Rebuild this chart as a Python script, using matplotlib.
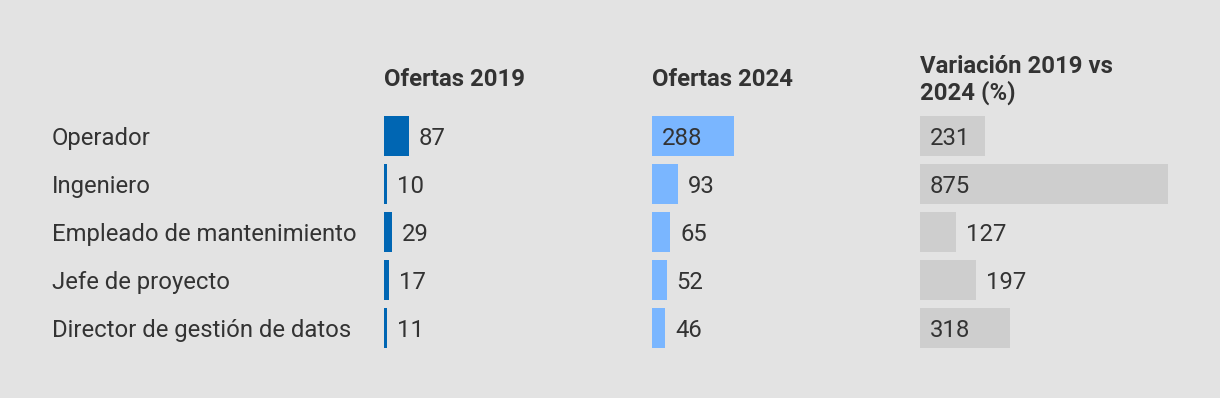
import matplotlib
matplotlib.use("Agg")
import matplotlib.pyplot as plt

# ── 데이터 ────────────────────────────────────────────────────────────────
categories = [
    "Operador",
    "Ingeniero",
    "Empleado de mantenimiento",
    "Jefe de proyecto",
    "Director de gestión de datos",
]
ofertas_2019 = [87, 10, 29, 17, 11]
ofertas_2024 = [288, 93, 65, 52, 46]
variacion = [231, 875, 127, 197, 318]
headers = ["Ofertas 2019", "Ofertas 2024", "Variación 2019 vs\n2024 (%)"]

# ── 스타일 ────────────────────────────────────────────────────────────────
BG = "#e3e3e3"
TXT = "#333333"
COLORS = ["#0066b3", "#7ab6ff", "#cecece"]
FS = 17.2
plt.rcParams["font.family"] = ["Roboto", "DejaVu Sans"]

W, H = 1220, 398
fig = plt.figure(figsize=(W / 100, H / 100), dpi=100)
fig.patch.set_facecolor(BG)

COL_X = [384, 652, 920]      # 열 시작 (px)
COL_W = 248                   # 최대값 875 에 해당하는 폭 (px)
ROW_TOP, ROW_H = 112, 48      # 첫 행 상단, 행 간격 (px)
BASE_OFF = 8.5                # 행 중심 → 글자 baseline (px)
n = len(categories)
vmax = max(variacion)

def fx(px):
    return px / W

def fy(py):
    return 1 - py / H

series = [ofertas_2019, ofertas_2024, variacion]
fig.canvas.draw()
renderer = fig.canvas.get_renderer()

for col, (vals, color, head) in enumerate(zip(series, COLORS, headers)):
    ax = fig.add_axes([fx(COL_X[col]), fy(ROW_TOP + n * ROW_H),
                       fx(COL_W), n * ROW_H / H])
    ax.set_xlim(0, vmax)
    ax.set_ylim(n - 0.5, -0.5)
    ax.axis("off")
    ax.barh(range(n), vals, height=40 / ROW_H, color=color, left=0)
    px_per_unit = COL_W / vmax
    for i, v in enumerate(vals):
        t = ax.text(0, i + BASE_OFF / ROW_H, str(v), fontsize=FS, color=TXT,
                    va="baseline", ha="left")
        tw = t.get_window_extent(renderer).width
        if v * px_per_unit > tw + 20:
            t.set_x(10 / px_per_unit)
        else:
            t.set_x(v + 10 / px_per_unit)
    fig.text(fx(COL_X[col]), fy(80), head, fontsize=FS, fontweight="bold",
             color=TXT, ha="left", va="center", linespacing=1.15)

for i, cat in enumerate(categories):
    fig.text(fx(52), fy(ROW_TOP + ROW_H * (i + 0.5) + BASE_OFF), cat,
             fontsize=FS, color=TXT, ha="left", va="baseline")

fig.savefig("out.png", dpi=100, facecolor=BG)
